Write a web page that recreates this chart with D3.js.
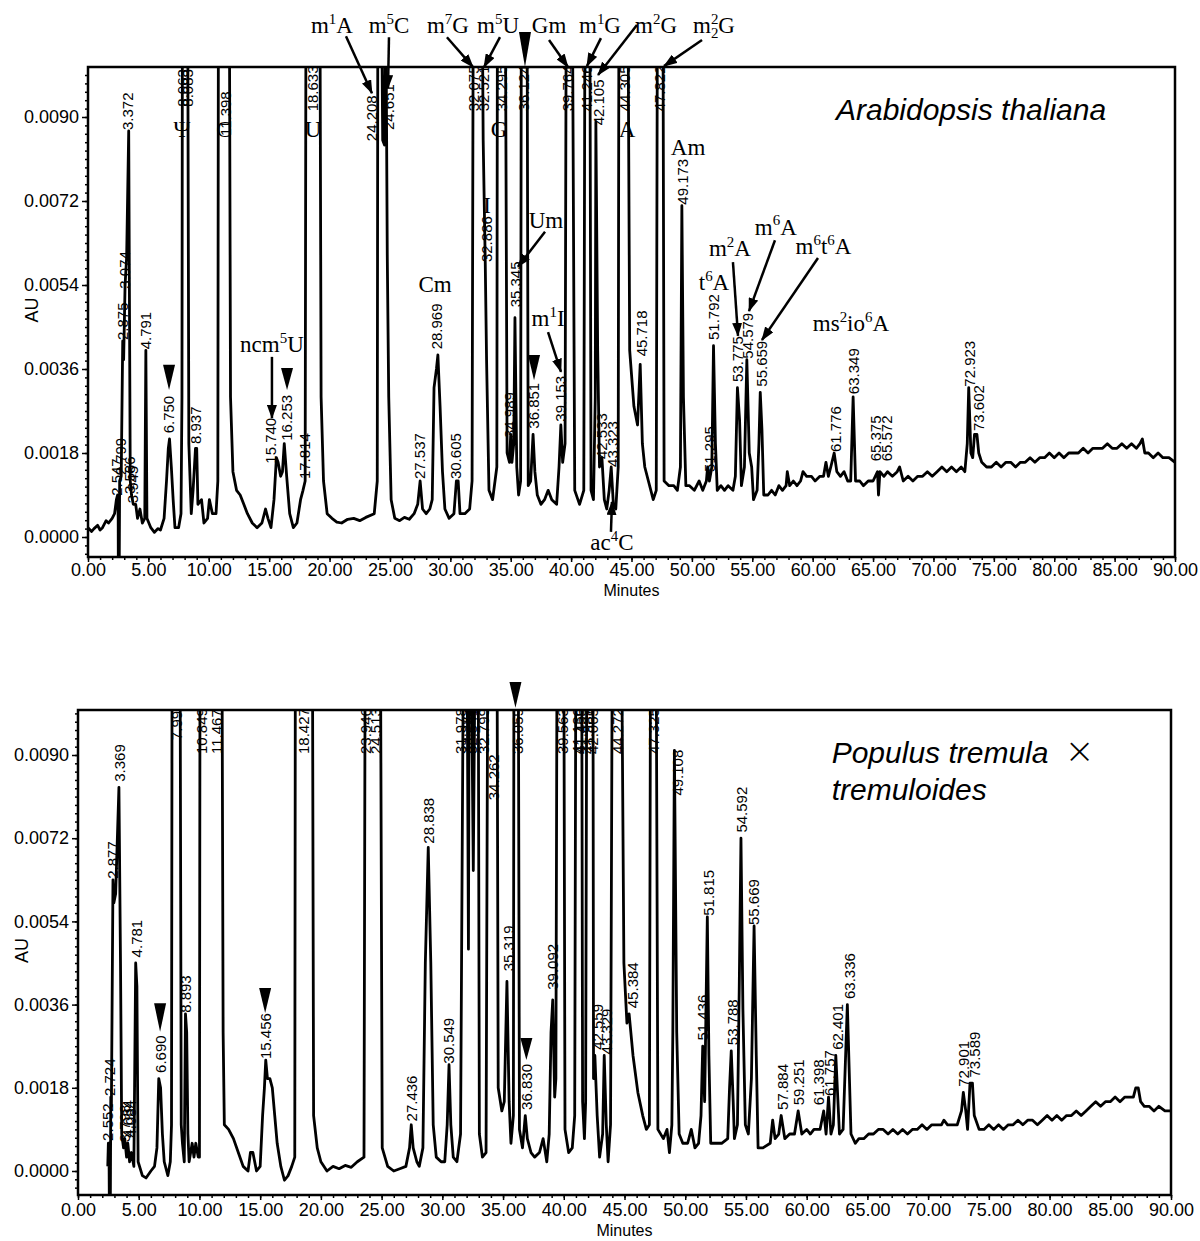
<!DOCTYPE html>
<html>
<head>
<meta charset="utf-8">
<script src="https://cdn.jsdelivr.net/npm/d3@7"></script>
<style>
  body { margin: 0; background: #fff; }
  svg { display: block; }
  text { font-family: "Liberation Sans", Arial, sans-serif; fill: #000; }
  .serif { font-family: "Liberation Serif", "Times New Roman", serif; }
</style>
</head>
<body>
<svg id="chart" width="1200" height="1241"></svg>
<script>
// ---- axis ticks ----
const xTicks = d3.range(0, 91, 5);
const xMinor = d3.range(0, 91, 1);
const yTicks = [0, 0.0018, 0.0036, 0.0054, 0.0072, 0.0090];
const yMinor = d3.range(-20, 56, 1).map(i => i * 0.00018);

// ---- Arabidopsis thaliana trace [minutes, AU] (off-scale peaks run past the frame) ----
const arabTrace = [
  [0, 0.0002], [0.3, 0.00012], [0.5, 0.00018], [0.8, 0.00025], [1.0, 0.00015], [1.2, 0.0002],
  [1.5, 0.00035], [1.7, 0.0003], [2.0, 0.0004], [2.2, 0.0005], [2.35, 0.0008], [2.45, 0.0009],
  [2.5, 0.0004], [2.52, -0.0015], [2.57, -0.0015], [2.62, 0.0012], [2.75, 0.0013], [2.875, 0.0042],
  [2.95, 0.0038], [3.07, 0.0054], [3.2, 0.0060], [3.37, 0.0087], [3.45, 0.0040], [3.5, 0.0012],
  [3.6, 0.0009], [3.75, 0.0007], [3.95, 0.0007], [4.1, 0.0004], [4.3, 0.0006], [4.5, 0.0003],
  [4.7, 0.0004], [4.79, 0.0040], [4.88, 0.0004], [5.2, 0.0002], [5.5, 0.0001], [5.8, 0.00018],
  [6.0, 0.00015], [6.3, 0.0004], [6.5, 0.0012], [6.65, 0.0019], [6.75, 0.0021], [6.9, 0.0015],
  [7.05, 0.0008], [7.2, 0.0002], [7.5, 0.0002], [7.7, 0.0005], [7.78, 0.0030], [7.82, 0.012],
  [8.05, 0.015], [8.25, 0.012], [8.35, 0.0020], [8.55, 0.0005], [8.7, 0.0010], [8.9, 0.0019],
  [9.0, 0.0019], [9.1, 0.0007], [9.4, 0.0008], [9.6, 0.0003], [9.9, 0.0004], [10.05, 0.0008],
  [10.3, 0.0005], [10.6, 0.0005], [10.75, 0.0012], [10.8, 0.012], [11.4, 0.015], [11.7, 0.012],
  [11.8, 0.0030], [12.0, 0.0014], [12.3, 0.0010], [12.6, 0.0009], [12.9, 0.0007], [13.2, 0.0005],
  [13.6, 0.0003], [14.0, 0.0002], [14.4, 0.0003], [14.7, 0.0006], [14.9, 0.0004], [15.15, 0.0002],
  [15.4, 0.0008], [15.6, 0.0017], [15.74, 0.0016], [15.95, 0.0013], [16.1, 0.0014], [16.25, 0.0020],
  [16.45, 0.0013], [16.7, 0.0005], [17.0, 0.0002], [17.3, 0.0003], [17.6, 0.0008], [17.8, 0.0010],
  [17.98, 0.0012], [18.05, 0.012], [18.6, 0.015], [19.2, 0.012], [19.3, 0.0030], [19.5, 0.0012],
  [19.8, 0.0005], [20.2, 0.0004], [20.6, 0.00032], [21.0, 0.0003], [21.5, 0.00038], [22.0, 0.0004],
  [22.5, 0.00035], [23.0, 0.00042], [23.7, 0.0005], [23.95, 0.0012], [24.0, 0.012], [24.2, 0.015],
  [24.4, 0.0085], [24.55, 0.0084], [24.65, 0.012], [24.78, 0.0060], [24.9, 0.0030], [25.1, 0.0008],
  [25.4, 0.0004], [25.8, 0.00035], [26.2, 0.00042], [26.6, 0.00038], [27.0, 0.0005], [27.3, 0.0007],
  [27.5, 0.0012], [27.7, 0.0006], [28.0, 0.0005], [28.3, 0.0006], [28.5, 0.0008], [28.65, 0.0032],
  [28.85, 0.0036], [28.97, 0.0039], [29.15, 0.0028], [29.35, 0.0014], [29.55, 0.0006], [29.9, 0.0004],
  [30.3, 0.0005], [30.5, 0.0012], [30.65, 0.0012], [30.8, 0.0005], [31.2, 0.0005], [31.6, 0.0006],
  [31.8, 0.0012], [31.9, 0.012], [32.05, 0.015], [32.3, 0.014], [32.55, 0.015], [32.72, 0.0085],
  [32.89, 0.0059], [33.0, 0.0038], [33.2, 0.0010], [33.5, 0.0008], [33.85, 0.0015], [33.9, 0.012],
  [34.3, 0.015], [34.55, 0.012], [34.7, 0.0018], [34.9, 0.0016], [35.0, 0.0022], [35.1, 0.0016],
  [35.25, 0.0020], [35.35, 0.0047], [35.5, 0.0015], [35.65, 0.0009], [35.82, 0.0012], [35.88, 0.012],
  [36.12, 0.015], [36.35, 0.012], [36.45, 0.0011], [36.65, 0.0012], [36.85, 0.0022], [37.0, 0.0014],
  [37.2, 0.0009], [37.5, 0.0007], [37.8, 0.0008], [38.1, 0.0010], [38.4, 0.0008], [38.8, 0.0007],
  [39.0, 0.0015], [39.15, 0.0024], [39.3, 0.0016], [39.5, 0.0020], [39.6, 0.012], [39.76, 0.015],
  [40.1, 0.012], [40.3, 0.0010], [40.7, 0.0007], [41.05, 0.0010], [41.15, 0.012], [41.25, 0.015],
  [41.55, 0.012], [41.65, 0.0010], [41.85, 0.0008], [42.0, 0.0030], [42.05, 0.0089], [42.2, 0.0040],
  [42.35, 0.0015], [42.55, 0.0017], [42.75, 0.0008], [42.95, 0.0006], [43.15, 0.0010], [43.32, 0.0015],
  [43.5, 0.0007], [43.7, 0.0006], [43.9, 0.0015], [43.96, 0.012], [44.3, 0.015], [44.7, 0.012],
  [44.85, 0.0040], [45.2, 0.0028], [45.5, 0.0024], [45.72, 0.0037], [45.9, 0.0020], [46.1, 0.0015],
  [46.4, 0.0012], [46.8, 0.0008], [47.05, 0.0010], [47.15, 0.012], [47.4, 0.015], [47.6, 0.012],
  [47.7, 0.0012], [48.1, 0.0011], [48.5, 0.0011], [48.8, 0.0010], [49.05, 0.0015], [49.17, 0.0071],
  [49.3, 0.0030], [49.5, 0.0011], [49.8, 0.0011], [50.2, 0.0010], [50.6, 0.0012], [50.9, 0.0010],
  [51.2, 0.0012], [51.3, 0.0015], [51.45, 0.0012], [51.65, 0.0015], [51.79, 0.0041], [51.95, 0.0020],
  [52.1, 0.0010], [52.4, 0.0011], [52.7, 0.0010], [53.0, 0.0011], [53.4, 0.0010], [53.6, 0.0013],
  [53.77, 0.0032], [53.95, 0.0025], [54.1, 0.0011], [54.35, 0.0015], [54.55, 0.0038], [54.75, 0.0018],
  [54.95, 0.0015], [55.1, 0.0008], [55.4, 0.0010], [55.55, 0.0020], [55.66, 0.0031], [55.8, 0.0023],
  [55.95, 0.0009], [56.3, 0.0009], [56.6, 0.0010], [56.9, 0.0009], [57.2, 0.0011], [57.5, 0.0010],
  [57.8, 0.0011], [57.9, 0.0014], [58.1, 0.0011], [58.4, 0.0012], [58.7, 0.0011], [59.0, 0.0012],
  [59.2, 0.0014], [59.5, 0.0013], [59.9, 0.0013], [60.2, 0.0012], [60.6, 0.0013], [60.9, 0.0013],
  [61.1, 0.0016], [61.3, 0.0013], [61.5, 0.0015], [61.78, 0.0018], [62.0, 0.0014], [62.3, 0.0013],
  [62.6, 0.0014], [62.9, 0.0012], [63.15, 0.0012], [63.35, 0.0030], [63.55, 0.0012], [63.9, 0.0012],
  [64.2, 0.0011], [64.6, 0.0012], [65.0, 0.0012], [65.37, 0.0014], [65.45, 0.0009], [65.57, 0.0014],
  [65.9, 0.0013], [66.2, 0.0014], [66.6, 0.0013], [67.0, 0.0014], [67.2, 0.0015], [67.5, 0.0012],
  [67.9, 0.0013], [68.3, 0.0012], [68.7, 0.0013], [69.1, 0.0013], [69.5, 0.0014], [69.9, 0.0013],
  [70.3, 0.0014], [70.7, 0.0015], [71.1, 0.0014], [71.5, 0.0015], [71.9, 0.0014], [72.3, 0.0015],
  [72.6, 0.0014], [72.8, 0.0020], [72.92, 0.0032], [73.1, 0.0018], [73.25, 0.0017], [73.4, 0.0022],
  [73.6, 0.0022], [73.75, 0.0018], [74.0, 0.0016], [74.4, 0.0015], [74.8, 0.0015], [75.2, 0.0016],
  [75.6, 0.0015], [76.0, 0.0016], [76.4, 0.0016], [76.8, 0.0015], [77.2, 0.0016], [77.6, 0.0016],
  [78.0, 0.0017], [78.4, 0.0016], [78.8, 0.0017], [79.2, 0.0017], [79.6, 0.0018], [80.0, 0.0017],
  [80.4, 0.0018], [80.8, 0.0017], [81.2, 0.0018], [81.6, 0.0018], [82.0, 0.0018], [82.4, 0.0019],
  [82.8, 0.0018], [83.2, 0.0019], [83.6, 0.0019], [84.0, 0.0019], [84.4, 0.0020], [84.8, 0.0019],
  [85.2, 0.0019], [85.6, 0.0020], [86.0, 0.0019], [86.4, 0.0020], [86.8, 0.0019], [87.1, 0.0020],
  [87.3, 0.0021], [87.5, 0.0018], [87.8, 0.0018], [88.2, 0.0017], [88.6, 0.0018], [89.0, 0.0017],
  [89.5, 0.0017], [90.0, 0.0016]
];

// retention-time labels [minutes, text, AU at label foot]
const arabPeaks = [
  [2.4, "2.547", 0.00086], [2.73, "2.799", 0.0013], [2.9, "2.875", 0.0042], [3.06, "3.074", 0.0053],
  [3.31, "3.372", 0.0087], [3.48, "3.586", 0.0009], [3.73, "3.945", 0.0007], [4.8, "4.791", 0.0040],
  [6.7, "6.750", 0.0022], [7.86, "8.063", 0.0092], [8.28, "8.083", 0.0092], [8.94, "8.937", 0.00197],
  [11.42, "11.398", 0.00857], [15.15, "15.740", 0.00155], [16.47, "16.253", 0.00204],
  [17.96, "17.814", 0.00122], [18.63, "18.633", 0.0091], [23.5, "24.208", 0.00846],
  [24.9, "24.651", 0.0087], [27.48, "27.537", 0.00122], [28.9, "28.969", 0.0040],
  [30.46, "30.605", 0.00122], [31.95, "32.075", 0.0091], [32.78, "32.521", 0.0091],
  [33.03, "32.886", 0.00587], [34.27, "34.295", 0.0091], [34.93, "34.989", 0.0021],
  [35.43, "35.345", 0.0049], [36.09, "36.124", 0.0091], [36.92, "36.851", 0.0023],
  [39.16, "39.153", 0.00245], [39.74, "39.764", 0.0091], [41.3, "41.246", 0.0091],
  [42.3, "42.105", 0.0088], [42.55, "42.533", 0.00165], [43.46, "43.323", 0.00148],
  [44.45, "44.305", 0.0091], [45.86, "45.718", 0.00385], [47.35, "47.822", 0.0091],
  [49.25, "49.173", 0.0071], [51.5, "51.295", 0.00137], [51.82, "51.792", 0.0042],
  [53.8, "53.775", 0.0033], [54.64, "54.579", 0.0038], [55.8, "55.659", 0.0032],
  [61.9, "61.776", 0.0018], [63.4, "63.349", 0.00304], [65.23, "65.375", 0.0016],
  [66.14, "65.572", 0.0016], [73.0, "72.923", 0.0032], [73.76, "73.602", 0.00225]
];

// nucleoside names [text (^ sup, _ sub), minutes, AU at baseline]
const arabNames = [
  ["m^1A", 20.2, 0.0108], ["m^5C", 24.92, 0.0108], ["m^7G", 29.8, 0.0108], ["m^5U", 33.95, 0.0108],
  ["Gm", 38.17, 0.0108], ["m^1G", 42.39, 0.0108], ["m^2G", 47.03, 0.0108], ["m^2_2G", 51.83, 0.0108],
  ["Ψ", 7.78, 0.00857], ["C", 11.26, 0.00857], ["U", 18.63, 0.00857], ["G", 34.03, 0.00857],
  ["A", 44.63, 0.00857], ["I", 33.04, 0.00694], ["Am", 49.68, 0.00819], ["Cm", 28.73, 0.00525],
  ["Um", 37.92, 0.00662], ["m^1I", 38.09, 0.00452], ["ncm^5U", 15.23, 0.00396],
  ["t^6A", 51.83, 0.00529], ["m^2A", 53.15, 0.00602], ["m^6A", 56.95, 0.00648],
  ["m^6t^6A", 60.9, 0.00606], ["ms^2io^6A", 63.17, 0.00441], ["ac^4C", 43.38, -0.00028]
];

// arrows [from minutes, from AU, to minutes, to AU]
const arabArrows = [
  [21.36, 0.01073, 23.51, 0.00951], [24.92, 0.01071, 24.84, 0.00962],
  [29.72, 0.01071, 31.88, 0.01007], [34.11, 0.01071, 32.79, 0.01007],
  [38.17, 0.01065, 39.74, 0.01007], [42.47, 0.01069, 41.31, 0.01009],
  [45.45, 0.01097, 42.23, 0.0099], [50.84, 0.01065, 47.69, 0.01009],
  [37.84, 0.00654, 35.6, 0.00579], [38.09, 0.00439, 39.16, 0.00354],
  [15.23, 0.00386, 15.23, 0.00255], [43.3, 0.00011, 43.38, 0.00075],
  [53.4, 0.00589, 53.82, 0.00431], [56.88, 0.00636, 54.73, 0.00484],
  [60.44, 0.00598, 55.8, 0.00422]
];

// filled triangles [minutes, tip AU, top AU]
const arabMarks = [
  [6.71, 0.00315, 0.00369], [16.48, 0.00315, 0.00362], [36.18, 0.01007, 0.01082], [36.93, 0.00336, 0.0039]
];

// ---- Populus tremula x tremuloides trace [minutes, AU] ----
const popTrace = [
  [2.45, 0.0001], [2.5, 0.0006], [2.55, 0.0006], [2.6, -0.0015], [2.65, -0.0015], [2.7, 0.0016],
  [2.75, 0.0014], [2.88, 0.0063], [2.95, 0.0058], [3.1, 0.0060], [3.37, 0.0083], [3.5, 0.0045],
  [3.6, 0.0008], [3.75, 0.0005], [3.85, 0.0007], [4.0, 0.0003], [4.1, 0.0006], [4.25, 0.0002],
  [4.4, 0.0004], [4.6, 0.0001], [4.75, 0.0045], [4.85, 0.0040], [4.95, 0.0002], [5.3, -0.0001],
  [5.6, -0.00015], [6.0, 0.0], [6.3, 0.0001], [6.5, 0.0005], [6.65, 0.0020], [6.8, 0.0018],
  [6.95, 0.0008], [7.1, 0.0002], [7.4, -0.0001], [7.6, 0.0002], [7.7, 0.0010], [7.75, 0.012],
  [8.0, 0.015], [8.4, 0.012], [8.5, 0.0010], [8.6, 0.0006], [8.75, 0.0002], [8.85, 0.0034],
  [8.95, 0.0030], [9.05, 0.0008], [9.15, 0.0002], [9.4, 0.0006], [9.55, 0.0003], [9.7, 0.0006],
  [9.9, 0.0003], [10.0, 0.0003], [10.05, 0.012], [10.85, 0.015], [11.15, 0.013], [11.47, 0.015],
  [11.85, 0.012], [11.95, 0.0030], [12.05, 0.0010], [12.4, 0.0009], [12.8, 0.0007], [13.2, 0.0004],
  [13.6, 0.0001], [14.0, 0.0], [14.2, 0.0004], [14.4, 0.0004], [14.7, 0.0], [15.0, 0.0001],
  [15.2, 0.0012], [15.35, 0.0018], [15.46, 0.0024], [15.6, 0.0020], [15.8, 0.0020], [16.0, 0.0018],
  [16.2, 0.0012], [16.4, 0.0006], [16.7, 0.0001], [17.0, -0.0002], [17.3, -0.0001], [17.6, 0.0001],
  [17.85, 0.0003], [17.9, 0.012], [18.43, 0.015], [19.3, 0.012], [19.4, 0.0012], [19.7, 0.0005],
  [20.0, 0.0002], [20.5, 0.0], [21.0, 0.0001], [21.5, 0.00005], [22.0, 0.00012], [22.5, 0.00008],
  [23.0, 0.0002], [23.55, 0.0003], [23.65, 0.012], [23.95, 0.015], [24.2, 0.013], [24.51, 0.015],
  [24.9, 0.012], [25.05, 0.0005], [25.5, 0.0001], [26.0, 0.0], [26.5, 0.00005], [27.0, 0.0001],
  [27.3, 0.0005], [27.44, 0.0010], [27.6, 0.0005], [27.9, 0.0002], [28.1, 0.0001], [28.4, 0.0005],
  [28.6, 0.0045], [28.84, 0.0070], [29.05, 0.0045], [29.25, 0.0010], [29.5, 0.0003], [29.9, 0.0002],
  [30.2, 0.0002], [30.4, 0.0010], [30.55, 0.0023], [30.7, 0.0010], [30.9, 0.0003], [31.2, 0.0002],
  [31.5, 0.0008], [31.75, 0.012], [31.98, 0.015], [32.15, 0.0048], [32.25, 0.015], [32.55, 0.0065],
  [32.8, 0.015], [32.95, 0.012], [33.05, 0.0008], [33.3, 0.0003], [33.6, 0.0004], [33.75, 0.012],
  [34.2, 0.015], [34.5, 0.012], [34.6, 0.0018], [34.9, 0.0013], [35.1, 0.0015], [35.32, 0.0041],
  [35.5, 0.0015], [35.65, 0.0006], [35.85, 0.0012], [35.9, 0.012], [36.06, 0.015], [36.25, 0.012],
  [36.35, 0.0009], [36.6, 0.0005], [36.83, 0.0012], [37.0, 0.0007], [37.3, 0.0004], [37.6, 0.0003],
  [38.0, 0.0004], [38.3, 0.0007], [38.6, 0.0002], [38.8, 0.0008], [38.95, 0.0030], [39.09, 0.0037],
  [39.25, 0.0016], [39.35, 0.0020], [39.45, 0.012], [39.56, 0.015], [40.0, 0.012], [40.1, 0.0009],
  [40.4, 0.0004], [40.7, 0.0005], [40.9, 0.0012], [41.0, 0.012], [41.15, 0.015], [41.3, 0.013],
  [41.45, 0.015], [41.55, 0.0015], [41.7, 0.0007], [41.8, 0.0015], [41.9, 0.012], [42.0, 0.015],
  [42.2, 0.013], [42.3, 0.015], [42.4, 0.012], [42.45, 0.0020], [42.56, 0.0025], [42.75, 0.0012],
  [42.95, 0.0003], [43.2, 0.0008], [43.33, 0.0025], [43.5, 0.0010], [43.65, 0.0002], [43.85, 0.0010],
  [44.0, 0.012], [44.27, 0.015], [44.75, 0.012], [44.95, 0.0045], [45.2, 0.0032], [45.38, 0.0034],
  [45.7, 0.0025], [46.1, 0.0017], [46.5, 0.0012], [46.8, 0.0009], [47.05, 0.0010], [47.15, 0.012],
  [47.33, 0.015], [47.6, 0.012], [47.75, 0.0009], [48.2, 0.0007], [48.5, 0.0009], [48.7, 0.0004],
  [48.9, 0.0010], [48.98, 0.0030], [49.11, 0.0091], [49.3, 0.0030], [49.5, 0.0008], [49.8, 0.0006],
  [50.2, 0.0006], [50.5, 0.0009], [50.8, 0.0005], [51.1, 0.0006], [51.3, 0.0012], [51.44, 0.0027],
  [51.6, 0.0015], [51.82, 0.0055], [51.95, 0.0025], [52.1, 0.0006], [52.5, 0.0006], [53.0, 0.0006],
  [53.5, 0.0007], [53.65, 0.0018], [53.79, 0.0026], [53.95, 0.0015], [54.05, 0.0007], [54.3, 0.0010],
  [54.45, 0.0040], [54.59, 0.0072], [54.75, 0.0035], [54.95, 0.0010], [55.2, 0.0008], [55.45, 0.0020],
  [55.67, 0.0053], [55.85, 0.0025], [56.0, 0.0005], [56.4, 0.0005], [57.0, 0.0006], [57.2, 0.0011],
  [57.4, 0.0007], [57.7, 0.0008], [57.9, 0.0012], [58.2, 0.0007], [58.6, 0.0008], [59.0, 0.0008],
  [59.3, 0.0013], [59.6, 0.0008], [60.0, 0.0009], [60.3, 0.0008], [60.6, 0.0009], [61.1, 0.0009],
  [61.4, 0.0013], [61.6, 0.0008], [61.8, 0.0016], [62.0, 0.0008], [62.2, 0.0010], [62.4, 0.0025],
  [62.7, 0.0008], [63.0, 0.0009], [63.35, 0.0036], [63.65, 0.0008], [64.0, 0.0006], [64.3, 0.0007],
  [64.7, 0.0007], [65.1, 0.0008], [65.5, 0.0008], [65.9, 0.0009], [66.3, 0.0009], [66.7, 0.0008],
  [67.1, 0.0009], [67.5, 0.0008], [67.9, 0.0009], [68.3, 0.0008], [68.7, 0.0009], [69.1, 0.0009],
  [69.5, 0.0010], [69.9, 0.0009], [70.3, 0.0010], [70.7, 0.0010], [71.1, 0.0010], [71.3, 0.0011],
  [71.6, 0.0010], [72.0, 0.0010], [72.4, 0.0010], [72.75, 0.0013], [72.9, 0.0017], [73.1, 0.0013],
  [73.25, 0.0009], [73.45, 0.0019], [73.65, 0.0019], [73.8, 0.0012], [74.2, 0.0009], [74.6, 0.0009],
  [75.0, 0.0010], [75.4, 0.0009], [75.8, 0.0010], [76.2, 0.0009], [76.6, 0.0010], [77.0, 0.0010],
  [77.4, 0.0011], [77.8, 0.0010], [78.2, 0.0011], [78.6, 0.0011], [79.0, 0.0010], [79.4, 0.0011],
  [79.8, 0.0012], [80.2, 0.0011], [80.6, 0.0012], [81.0, 0.0011], [81.4, 0.0012], [81.8, 0.0012],
  [82.2, 0.0013], [82.6, 0.0012], [83.0, 0.0013], [83.4, 0.0014], [83.8, 0.0015], [84.2, 0.0014],
  [84.6, 0.0015], [85.0, 0.0015], [85.4, 0.0016], [85.8, 0.0015], [86.2, 0.0016], [86.6, 0.0016],
  [86.9, 0.0016], [87.1, 0.0018], [87.3, 0.0018], [87.5, 0.0015], [87.8, 0.0014], [88.2, 0.0014],
  [88.6, 0.0013], [89.0, 0.0014], [89.5, 0.0013], [90.0, 0.0013]
];

const popPeaks = [
  [2.4, "2.552", 0.00063], [2.64, "2.724", 0.0016], [2.88, "2.877", 0.0063], [3.46, "3.369", 0.0084],
  [3.8, "3.798", 0.0006], [4.1, "4.034", 0.0007], [4.3, "4.084", 0.0007], [4.86, "4.781", 0.0046],
  [6.76, "6.690", 0.0021], [8.08, "7.993", 0.0093], [8.9, "8.893", 0.0034], [10.2, "10.849", 0.009],
  [11.45, "11.467", 0.009], [15.41, "15.456", 0.0024], [18.55, "18.427", 0.009], [23.65, "23.946", 0.009],
  [24.5, "24.513", 0.009], [27.45, "27.436", 0.00105], [28.85, "28.838", 0.00706], [30.5, "30.549", 0.0023],
  [31.5, "31.978", 0.009], [32.0, "32.287", 0.009], [32.45, "32.541", 0.009], [33.4, "32.799", 0.009],
  [34.2, "34.262", 0.0080], [35.45, "35.319", 0.0043], [36.2, "36.059", 0.009], [36.9, "36.830", 0.0013],
  [39.1, "39.092", 0.0039], [39.9, "39.563", 0.009], [41.1, "41.136", 0.009], [41.4, "41.455", 0.009],
  [42.0, "41.987", 0.009], [42.4, "42.065", 0.009], [42.75, "42.559", 0.0026], [43.5, "43.329", 0.0025],
  [44.4, "44.272", 0.009], [45.7, "45.384", 0.0035], [47.4, "47.325", 0.009], [49.4, "49.108", 0.0081],
  [51.45, "51.436", 0.0028], [51.95, "51.815", 0.0055], [53.9, "53.788", 0.0027], [54.65, "54.592", 0.0073],
  [55.65, "55.669", 0.0053], [58.0, "57.884", 0.0013], [59.35, "59.251", 0.0014], [61.0, "61.398", 0.0014],
  [61.85, "61.757", 0.0016], [62.55, "62.401", 0.0026], [63.5, "63.336", 0.0037], [72.95, "72.901", 0.0018],
  [73.8, "73.589", 0.0020]
];

const popMarks = [
  [6.76, 0.00301, 0.00363], [15.41, 0.00342, 0.00396], [36.02, 0.01002, 0.01058], [36.92, 0.0024, 0.00288]
];

// ---- drawing ----
const svg = d3.select("#chart");
const defs = svg.append("defs");
defs.append("marker")
    .attr("id", "head")
    .attr("viewBox", "0 0 14 10")
    .attr("refX", 13).attr("refY", 5)
    .attr("markerWidth", 14).attr("markerHeight", 10)
    .attr("markerUnits", "userSpaceOnUse")
    .attr("orient", "auto")
  .append("path")
    .attr("d", "M0,0L14,5L0,10Z")
    .attr("fill", "#000");

// writes "m^2_2G" style names as tspans
function richText(sel, s, size) {
  let shift = 0, lastSup = false;
  for (let i = 0; i < s.length; i++) {
    const c = s[i];
    if (c === "^" || c === "_") {
      const ch = s[i + 1];
      const off = c === "^" ? -0.4 * size : 0.22 * size;
      const t = sel.append("tspan").attr("font-size", size * 0.65).attr("dy", off - shift).text(ch);
      if (c === "_" && lastSup) t.attr("dx", -size * 0.65 * 0.5);
      lastSup = c === "^";
      shift = off; i++;
    } else {
      sel.append("tspan").attr("font-size", size).attr("dy", -shift).text(c);
      shift = 0; lastSup = false;
    }
  }
}

function drawPanel(p) {
  const x = d3.scaleLinear().domain([0, 90]).range([p.left, p.right]);
  const y = d3.scaleLinear().domain([0, 0.009]).range([p.y0, p.y9]);
  const g = svg.append("g");

  defs.append("clipPath").attr("id", "clip-" + p.id)
    .append("rect")
      .attr("x", p.left).attr("y", p.top)
      .attr("width", p.right - p.left).attr("height", p.bottom - p.top);

  // x axis: minor then major
  g.append("g").attr("transform", `translate(0,${p.bottom})`)
    .call(d3.axisBottom(x).tickValues(xMinor).tickSize(3).tickFormat(""))
    .call(a => a.select(".domain").remove());
  g.append("g").attr("transform", `translate(0,${p.bottom})`)
    .call(d3.axisBottom(x).tickValues(xTicks).tickSize(5).tickPadding(p.xPad).tickFormat(d3.format(".2f")))
    .call(a => a.select(".domain").remove())
    .call(a => a.selectAll("text").attr("font-size", 18).attr("font-family", "Liberation Sans, Arial"));

  // y axis
  g.append("g").attr("transform", `translate(${p.left},0)`)
    .call(d3.axisLeft(y).tickValues(yMinor.filter(v => y(v) > p.top && y(v) < p.bottom)).tickSize(3).tickFormat(""))
    .call(a => a.select(".domain").remove());
  g.append("g").attr("transform", `translate(${p.left},0)`)
    .call(d3.axisLeft(y).tickValues(yTicks).tickSize(6).tickPadding(3).tickFormat(d3.format(".4f")))
    .call(a => a.select(".domain").remove())
    .call(a => a.selectAll("text").attr("font-size", 18).attr("font-family", "Liberation Sans, Arial"));
  g.selectAll(".tick line").attr("stroke", "#000").attr("stroke-width", 1.5);

  // axis titles
  g.append("text")
    .attr("x", (p.left + p.right) / 2).attr("y", p.minutesY)
    .attr("text-anchor", "middle").attr("font-size", 16)
    .text("Minutes");
  g.append("text")
    .attr("transform", `translate(${p.auX},${(p.top + p.bottom) / 2 - 2}) rotate(-90)`)
    .attr("text-anchor", "middle").attr("dy", "0.35em").attr("font-size", 18)
    .text("AU");

  // trace
  const plot = g.append("g").attr("clip-path", `url(#clip-${p.id})`);
  plot.append("path")
    .datum(p.trace)
    .attr("d", d3.line().x(d => x(d[0])).y(d => y(d[1])))
    .attr("fill", "none")
    .attr("stroke", "#000")
    .attr("stroke-width", 2.8)
    .attr("stroke-linejoin", "round");

  // retention-time labels
  plot.selectAll("text.rt")
    .data(p.peaks)
    .join("text")
      .attr("class", "rt")
      .attr("transform", d => `translate(${x(d[0])},${y(d[2]) - 1}) rotate(-90)`)
      .attr("dy", "0.36em")
      .attr("font-size", 15)
      .text(d => d[1]);

  // triangles
  g.selectAll("path.mark")
    .data(p.marks)
    .join("path")
      .attr("class", "mark")
      .attr("d", d => {
        const cx = x(d[0]), tip = y(d[1]), up = y(d[2]);
        return `M${cx - 6},${up}L${cx + 6},${up}L${cx},${tip}Z`;
      })
      .attr("fill", "#000");

  // frame
  g.append("rect")
    .attr("x", p.left).attr("y", p.top)
    .attr("width", p.right - p.left).attr("height", p.bottom - p.top)
    .attr("fill", "none").attr("stroke", "#000").attr("stroke-width", 2.5);

  return { x, y, g };
}

// Arabidopsis panel
const arabPanel = drawPanel({
  id: "arab", left: 88, right: 1175, top: 67, bottom: 557, y0: 537, y9: 117,
  xPad: 1, minutesY: 596, auX: 32,
  trace: arabTrace, peaks: arabPeaks, marks: arabMarks
});

arabPanel.g.selectAll("line.arrow")
  .data(arabArrows)
  .join("line")
    .attr("class", "arrow")
    .attr("x1", d => arabPanel.x(d[0])).attr("y1", d => arabPanel.y(d[1]))
    .attr("x2", d => arabPanel.x(d[2])).attr("y2", d => arabPanel.y(d[3]))
    .attr("stroke", "#000").attr("stroke-width", 2.5)
    .attr("marker-end", "url(#head)");

arabPanel.g.selectAll("text.name")
  .data(arabNames)
  .join("text")
    .attr("class", "name serif")
    .attr("x", d => arabPanel.x(d[1])).attr("y", d => arabPanel.y(d[2]))
    .attr("text-anchor", "middle")
    .each(function (d) { richText(d3.select(this), d[0], 23); });

arabPanel.g.append("text")
  .attr("x", arabPanel.x(61.93)).attr("y", arabPanel.y(0.00894))
  .attr("font-size", 30).attr("font-style", "italic")
  .text("Arabidopsis thaliana");

// Populus panel
const popPanel = drawPanel({
  id: "pop", left: 78, right: 1171, top: 710, bottom: 1195, y0: 1171, y9: 755,
  xPad: 3, minutesY: 1236, auX: 22,
  trace: popTrace, peaks: popPeaks, marks: popMarks
});

const title2 = popPanel.g.append("text")
  .attr("x", popPanel.x(62.06)).attr("y", popPanel.y(0.00883))
  .attr("font-size", 30).attr("font-style", "italic");
title2.append("tspan").text("Populus tremula");
title2.append("tspan").attr("dx", 16).attr("font-style", "normal")
  .attr("font-family", "DejaVu Sans").attr("font-weight", 200)
  .attr("font-size", 36).text("×");
popPanel.g.append("text")
  .attr("x", popPanel.x(62.06)).attr("y", popPanel.y(0.00803))
  .attr("font-size", 30).attr("font-style", "italic")
  .text("tremuloides");
</script>
</body>
</html>
